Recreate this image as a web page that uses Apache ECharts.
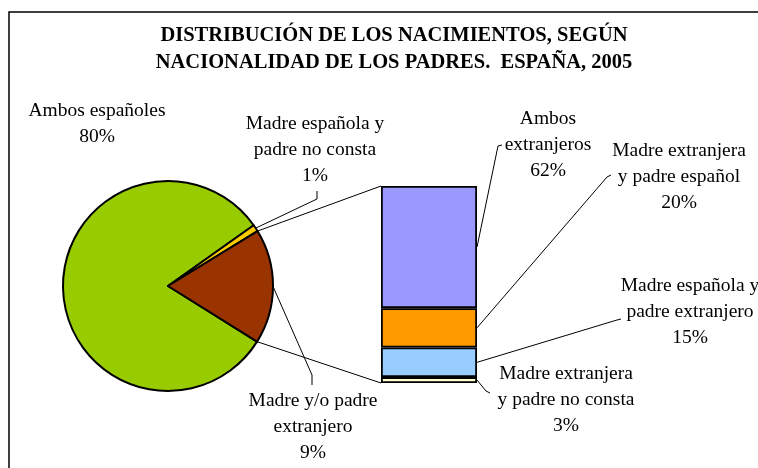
<!DOCTYPE html>
<html>
<head>
<meta charset="utf-8">
<script src="https://cdn.jsdelivr.net/npm/echarts@6/dist/echarts.min.js"></script>
<style>
  html, body { margin: 0; padding: 0; background: #fff; }
  #chart { width: 758px; height: 468px; }
</style>
</head>
<body>
<div id="chart"></div>
<script>
// tarta principal
const pieNames = ['Ambos españoles', 'Madre española y\npadre no consta', 'Madre y/o padre\nextranjero'];
const pieValues = [81.3, 1.05, 17.65];
const pieLabels = ['80%', '1%', '9%'];

// barra: desglose del sector marrón (de abajo a arriba)
const barNames = ['Madre extranjera\ny padre no consta', 'Madre española y\npadre extranjero', 'Madre extranjera\ny padre español', 'Ambos\nextranjeros'];
const barValues = [3, 15, 20, 62];
const barLabels = ['3%', '15%', '20%', '62%'];

const FONT = 'Liberation Serif';
const pieColors = ['#99CC00', '#FFCC00', '#993300'];
const barColors = ['#FFFFCC', '#99CCFF', '#FF9900', '#9999FF'];

// posiciones (maquetación)
const PIE_CX = 168, PIE_CY = 286, PIE_R = 105, START = -32;
const GRID = { left: 381, top: 186, width: 96, height: 197 };
const pieLabelPos = [[97, 124], [315, 150], [313, 427]];
const barLabelPos = [[566, 400], [690, 312], [679, 177], [548, 145]];
const pieBends = [null, [[317, 199], [317, 191]], [[312, 375], [312, 385]]];
const barBends = [[[486, 391], [490, 393]], [[617, 320], [621, 319]], [[607, 177], [611, 175]], [[498, 146], [502, 145]]];

const chart = echarts.init(document.getElementById('chart'));

const labelText = { fontFamily: FONT, fontSize: 19.5, lineHeight: 26, color: '#000', overflow: 'none' };

const option = {
  animation: false,
  title: {
    text: 'DISTRIBUCIÓN DE LOS NACIMIENTOS, SEGÚN\nNACIONALIDAD DE LOS PADRES.  ESPAÑA, 2005',
    left: 389,
    top: 17,
    textAlign: 'center',
    textStyle: { fontFamily: FONT, fontSize: 20.5, fontWeight: 'bold', lineHeight: 27, color: '#000' }
  },
  grid: GRID,
  xAxis: { type: 'category', data: [''], show: false },
  yAxis: { type: 'value', min: 0, max: 100, show: false },
  series: [
    {
      type: 'pie',
      silent: true,
      center: [PIE_CX, PIE_CY],
      radius: PIE_R,
      startAngle: START,
      clockwise: true,
      avoidLabelOverlap: false,
      itemStyle: { borderColor: '#000', borderWidth: 2 },
      label: Object.assign({ show: true, position: 'inside', formatter: p => p.name + '\n' + pieLabels[p.dataIndex] }, labelText),
      labelLine: { show: false },
      labelLayout: p => ({ x: pieLabelPos[p.dataIndex][0], y: pieLabelPos[p.dataIndex][1], align: 'center', verticalAlign: 'middle' }),
      data: pieNames.map((n, i) => ({ name: n, value: pieValues[i], itemStyle: { color: pieColors[i] } }))
    }
  ].concat(barNames.map((n, i) => ({
    type: 'bar',
    silent: true,
    stack: 'otros',
    barWidth: '100%',
    itemStyle: { color: barColors[i], borderColor: '#000', borderWidth: 1.8 },
    label: Object.assign({ show: true, position: 'right', formatter: n + '\n' + barLabels[i] }, labelText),
    labelLayout: { x: barLabelPos[i][0], y: barLabelPos[i][1], align: 'center', verticalAlign: 'middle' },
    data: [barValues[i]]
  })))
};
chart.setOption(option);

// líneas: conectores y guías de etiquetas
const total = pieValues.reduce((a, b) => a + b, 0);
const piePoint = deg => [PIE_CX + PIE_R * Math.cos(deg * Math.PI / 180), PIE_CY - PIE_R * Math.sin(deg * Math.PI / 180)];
const line = pts => ({ type: 'polyline', silent: true, shape: { points: pts }, style: { stroke: '#000', lineWidth: 1, fill: null } });

const graphic = [];
graphic.push({ type: 'rect', silent: true, shape: { x: 9, y: 12, width: 800, height: 500 }, style: { stroke: '#000', lineWidth: 1.5, fill: null } });

let cum = 0;
pieValues.forEach((v, i) => {
  const mid = START - 360 * (cum + v / 2) / total;
  cum += v;
  if (pieBends[i]) graphic.push(line([piePoint(mid)].concat(pieBends[i])));
});

const xc = chart.convertToPixel({ xAxisIndex: 0 }, '');
const barLeft = xc - GRID.width / 2, barRight = xc + GRID.width / 2;
let below = 0;
barValues.forEach((v, i) => {
  const ym = chart.convertToPixel({ yAxisIndex: 0 }, below + v / 2);
  below += v;
  graphic.push(line([[barRight, ym]].concat(barBends[i])));
});

// del sector "otros" a la barra
const otherStart = START - 360 * (pieValues[0] + pieValues[1]) / total;
const barTop = chart.convertToPixel({ yAxisIndex: 0 }, below);
const barBottom = chart.convertToPixel({ yAxisIndex: 0 }, 0);
graphic.push(line([piePoint(otherStart), [barLeft, barTop]]));
graphic.push(line([piePoint(START), [barLeft, barBottom]]));

chart.setOption({ graphic: graphic });
</script>
</body>
</html>
